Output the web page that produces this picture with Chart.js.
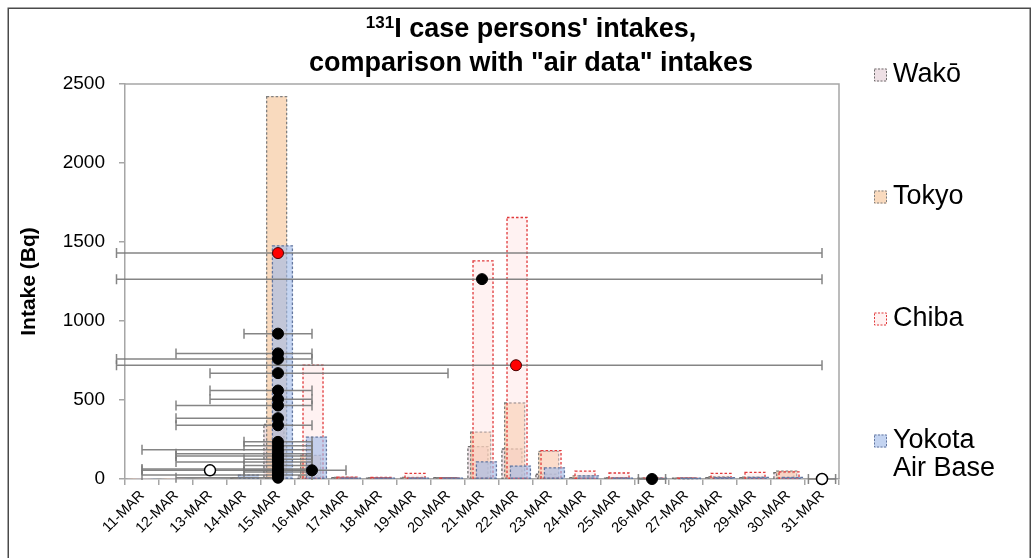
<!DOCTYPE html>
<html>
<head>
<meta charset="utf-8">
<script src="https://cdn.jsdelivr.net/npm/chart.js@4.4.1/dist/chart.umd.min.js"></script>
<style>
  html, body { margin: 0; padding: 0; background: #fff; }
  #wrap { width: 1031px; height: 558px; }
</style>
</head>
<body>
<div id="wrap"><canvas id="c" width="1031" height="558"></canvas></div>
<script>
// Days of March 2011 shown on the category axis
const dayLabels = ['11-MAR','12-MAR','13-MAR','14-MAR','15-MAR','16-MAR','17-MAR','18-MAR','19-MAR','20-MAR',
                   '21-MAR','22-MAR','23-MAR','24-MAR','25-MAR','26-MAR','27-MAR','28-MAR','29-MAR','30-MAR','31-MAR'];
const firstDay = 11;
const lastDay = 31;

// "Air data" intakes (Bq) per day at each monitoring location
const seriesNames = ['Wakō', 'Tokyo', 'Chiba', 'Yokota Air Base'];
const wakoIntake   = [0, 0, 0, 5, 345, 20, 8, 6, 5, 8, 205, 190, 30, 8, 5, 2, 3, 8, 8, 40, 0];
const tokyoIntake  = [0, 0, 0, 8, 2420, 150, 10, 8, 10, 8, 297, 481, 175, 20, 8, 3, 4, 15, 12, 50, 0];
const chibaIntake  = [0, 0, 0, 0, 0, 720, 12, 10, 35, 5, 1380, 1655, 180, 50, 38, 3, 5, 35, 42, 45, 0];
const yokotaIntake = [0, 0, 0, 25, 1475, 265, 5, 5, 5, 5, 108, 82, 70, 20, 5, 3, 3, 8, 10, 10, 0];

// Case persons' intakes (Bq): measurement day, intake, and the span of possible intake days
const caseDays   = [15, 15, 15, 15, 15, 15, 15, 15, 15, 15, 15, 15, 15, 15, 15, 15, 15, 15, 15, 15, 15, 16, 21, 26];
const caseIntake = [920, 795, 760, 670, 560, 505, 465, 385, 340, 235, 210, 185, 160, 145, 125, 108, 85, 63, 45, 25, 8, 55, 1265, 0];
const caseFrom   = [14, 12, 10.25, 13, 13, 13, 12, 12, 12, 14, 14, 11, 12, 12, 14, 12, 14, 11, 14, 11, 12, 14, 10.25, 25.6];
const caseTo     = [16, 16, 16, 20, 16, 16, 16, 15, 16, 16, 16, 16, 16, 16, 16, 16, 16, 16, 16, 16, 15, 17, 31, 26.4];

const redDays   = [15, 22];
const redIntake = [1430, 720];
const redFrom   = [10.25, 10.25];
const redTo     = [31, 31];

const whiteDays   = [13, 31];
const whiteIntake = [55, 0];
const whiteFrom   = [11, 30.6];
const whiteTo     = [16, 31.4];

const yTicks = [0, 500, 1000, 1500, 2000, 2500];

const titleIsotope = '131';
const titleLine1 = "I case persons' intakes,";
const titleLine2 = 'comparison with "air data" intakes';
const yAxisTitle = 'Intake (Bq)';

const FONT = '"Liberation Sans", Arial, Helvetica, sans-serif';
Chart.defaults.font.family = FONT;
Chart.defaults.color = '#000';

// Bars of one day overlap, each location nudged sideways (in days)
const barNudge = [-0.12, -0.04, 0.03, 0.13];
const barStyles = [
  { fill: 'rgba(226, 204, 212, 0.60)', outline: '#6e6e6e' },
  { fill: 'rgba(246, 196, 150, 0.62)', outline: '#7f7f7f' },
  { fill: 'rgba(255, 222, 222, 0.40)', outline: '#e0393b' },
  { fill: 'rgba(160, 185, 232, 0.62)', outline: '#64779e' }
];
const barValues = [wakoIntake, tokyoIntake, chibaIntake, yokotaIntake];

function points(days, vals, from, to) {
  return days.map((d, i) => ({ x: d, y: vals[i], from: from[i], to: to[i] }));
}

const barSets = seriesNames.map((name, k) => ({
  type: 'bar',
  label: name,
  xAxisID: 'xb' + k,
  yAxisID: 'y',
  data: barValues[k].map((v, i) => ({ x: firstDay + i, y: v })),
  backgroundColor: barStyles[k].fill,
  outlineColor: barStyles[k].outline,
  borderWidth: 0,
  grouped: false,
  barThickness: 20,
  order: 10 - k
}));

const pointSets = [
  {
    type: 'scatter', label: 'case (air data)', xAxisID: 'xd', yAxisID: 'y',
    data: points(redDays, redIntake, redFrom, redTo),
    pointRadius: 5.5, pointBackgroundColor: '#ff0000', pointBorderColor: '#4a0000',
    pointBorderWidth: 1, clip: false, order: 0
  },
  {
    type: 'scatter', label: 'case', xAxisID: 'xd', yAxisID: 'y',
    data: points(caseDays, caseIntake, caseFrom, caseTo),
    pointRadius: 5.5, pointBackgroundColor: '#000', pointBorderColor: '#000',
    pointBorderWidth: 1, clip: false, order: 1
  },
  {
    type: 'scatter', label: 'case (other)', xAxisID: 'xd', yAxisID: 'y',
    data: points(whiteDays, whiteIntake, whiteFrom, whiteTo),
    pointRadius: 5.5, pointBackgroundColor: '#fff', pointBorderColor: '#000',
    pointBorderWidth: 1.5, clip: false, order: 2
  }
];

// White page, outer frame and plot-area box
const frame = {
  id: 'frame',
  beforeDraw(chart) {
    const ctx = chart.ctx;
    ctx.save();
    ctx.fillStyle = '#fff';
    ctx.fillRect(0, 0, chart.width, chart.height);
    ctx.strokeStyle = '#4a4a4a';
    ctx.lineWidth = 1.5;
    ctx.strokeRect(8.25, 8.25, chart.width - 9, chart.height + 20);
    ctx.restore();
  },
  beforeDatasetsDraw(chart) {
    const { ctx, chartArea: a } = chart;
    ctx.save();
    ctx.strokeStyle = '#a6a6a6';
    ctx.lineWidth = 1.5;
    ctx.beginPath();
    ctx.moveTo(a.left, a.top);
    ctx.lineTo(a.right, a.top);
    ctx.lineTo(a.right, a.bottom);
    ctx.stroke();
    ctx.restore();
  }
};

// Two-line title with a superscript mass number
const titleBlock = {
  id: 'titleBlock',
  afterDraw(chart, args, o) {
    const ctx = chart.ctx;
    ctx.save();
    ctx.fillStyle = '#000';
    ctx.textBaseline = 'alphabetic';
    ctx.textAlign = 'left';
    const big = 'bold ' + o.size + 'px ' + FONT;
    const small = 'bold ' + Math.round(o.size * 0.62) + 'px ' + FONT;
    ctx.font = small;
    const wSup = ctx.measureText(titleIsotope).width;
    ctx.font = big;
    const wMain = ctx.measureText(titleLine1).width;
    const x0 = o.cx - (wSup + wMain) / 2;
    ctx.font = small;
    ctx.fillText(titleIsotope, x0, o.y1 - o.size * 0.34);
    ctx.font = big;
    ctx.fillText(titleLine1, x0 + wSup, o.y1);
    ctx.textAlign = 'center';
    ctx.fillText(titleLine2, o.cx, o.y2);
    ctx.restore();
  }
};

// Dotted outlines round each bar
const barOutlines = {
  id: 'barOutlines',
  afterDatasetDraw(chart, args) {
    const meta = args.meta;
    if (meta.type !== 'bar') return;
    const ds = chart.data.datasets[meta.index];
    const ctx = chart.ctx;
    ctx.save();
    ctx.setLineDash([2.5, 2]);
    ctx.lineWidth = 1.3;
    ctx.strokeStyle = ds.outlineColor;
    meta.data.forEach((bar, i) => {
      if (!(ds.data[i].y > 0)) return;
      const p = bar.getProps(['x', 'y', 'base', 'width'], true);
      ctx.strokeRect(p.x - p.width / 2, p.y, p.width, p.base - p.y);
    });
    ctx.restore();
  }
};

// Horizontal bars spanning the possible intake days of each case person
const intakeWindows = {
  id: 'intakeWindows',
  beforeDatasetsDraw(chart) { chart.$windowsDone = false; },
  beforeDatasetDraw(chart, args) {
    if (chart.$windowsDone || args.meta.type !== 'scatter') return;
    chart.$windowsDone = true;
    const ctx = chart.ctx;
    const xs = chart.scales.xd, ys = chart.scales.y;
    ctx.save();
    ctx.strokeStyle = 'rgba(120,120,120,0.9)';
    ctx.lineWidth = 1.5;
    chart.data.datasets.forEach(ds => {
      if (ds.type !== 'scatter') return;
      ds.data.forEach(p => {
        const y = ys.getPixelForValue(p.y);
        const x0 = xs.getPixelForValue(p.from);
        const x1 = xs.getPixelForValue(p.to);
        ctx.beginPath();
        ctx.moveTo(x0, y); ctx.lineTo(x1, y);
        ctx.moveTo(x0, y - 5); ctx.lineTo(x0, y + 5);
        ctx.moveTo(x1, y - 5); ctx.lineTo(x1, y + 5);
        ctx.stroke();
      });
    });
    ctx.restore();
  }
};

// Legend to the right of the plot, one location per row
const sideLegend = {
  id: 'sideLegend',
  afterDraw(chart, args, opts) {
    const ctx = chart.ctx;
    ctx.save();
    ctx.font = opts.fontSize + 'px ' + FONT;
    ctx.textBaseline = 'middle';
    ctx.textAlign = 'left';
    const bars = chart.data.datasets.filter(d => d.type === 'bar');
    bars.forEach((ds, i) => {
      const y = opts.top + i * opts.step;
      const b = opts.box;
      ctx.fillStyle = '#fff';
      ctx.fillRect(opts.x, y - b / 2, b, b);
      ctx.fillStyle = ds.backgroundColor;
      ctx.fillRect(opts.x, y - b / 2, b, b);
      ctx.setLineDash([2, 1.5]);
      ctx.lineWidth = 1;
      ctx.strokeStyle = ds.outlineColor;
      ctx.strokeRect(opts.x + 0.5, y - b / 2 + 0.5, b - 1, b - 1);
      ctx.setLineDash([]);
      // wrap the name by words
      const words = ds.label.split(' ');
      const lines = [];
      let line = '';
      words.forEach(w => {
        const t = line ? line + ' ' + w : w;
        if (line && ctx.measureText(t).width > opts.maxWidth) { lines.push(line); line = w; }
        else line = t;
      });
      lines.push(line);
      ctx.fillStyle = '#000';
      lines.forEach((l, k) => ctx.fillText(l, opts.x + b + opts.gap, y + k * opts.lineStep));
    });
    ctx.restore();
  }
};

const hiddenDayAxis = nudge => ({
  type: 'linear', display: false, offset: false,
  min: firstDay - 0.5 - nudge, max: lastDay + 0.5 - nudge
});

new Chart(document.getElementById('c'), {
  type: 'bar',
  data: { labels: dayLabels, datasets: [...barSets, ...pointSets] },
  plugins: [frame, barOutlines, intakeWindows, sideLegend, titleBlock],
  options: {
    responsive: false,
    animation: false,
    devicePixelRatio: 1,
    layout: { padding: { left: 17, right: 0, top: 84, bottom: 0 } },
    scales: {
      x: {
        type: 'category',
        offset: true,
        grid: { offset: true, drawOnChartArea: false, drawTicks: true, tickLength: 6, color: '#a6a6a6', lineWidth: 1.5 },
        border: { color: '#a6a6a6', width: 1.5 },
        ticks: { autoSkip: false, minRotation: 45, maxRotation: 45, color: '#000', font: { size: 14.5 }, padding: 2 },
        afterFit(s) { s.height = 79; }
      },
      xb0: hiddenDayAxis(barNudge[0]),
      xb1: hiddenDayAxis(barNudge[1]),
      xb2: hiddenDayAxis(barNudge[2]),
      xb3: hiddenDayAxis(barNudge[3]),
      xd: hiddenDayAxis(0),
      y: {
        type: 'linear',
        position: 'left',
        min: yTicks[0],
        max: yTicks[yTicks.length - 1],
        afterBuildTicks(s) { s.ticks = yTicks.map(v => ({ value: v })); },
        ticks: { color: '#000', font: { size: 19 }, padding: 14, callback: v => String(v) },
        grid: { drawOnChartArea: false, drawTicks: true, tickLength: 6, color: '#a6a6a6', lineWidth: 1.5 },
        border: { color: '#a6a6a6', width: 1.5 },
        title: { display: true, text: yAxisTitle, color: '#000', font: { size: 21, weight: 'bold' }, padding: { top: 0, bottom: 0 } },
        afterFit(s) { s.width = 108; }
      },
      yR: {
        type: 'linear',
        position: 'right',
        ticks: { display: false },
        grid: { display: false },
        border: { display: false },
        afterFit(s) { s.width = 192; }
      }
    },
    plugins: {
      legend: { display: false },
      tooltip: { enabled: false },
      title: { display: false },
      titleBlock: { cx: 531, y1: 37, y2: 71, size: 27 },
      sideLegend: { x: 874, top: 75, step: 122, box: 13, gap: 6, fontSize: 27, maxWidth: 110, lineStep: 28 }
    }
  }
});
</script>
</body>
</html>
